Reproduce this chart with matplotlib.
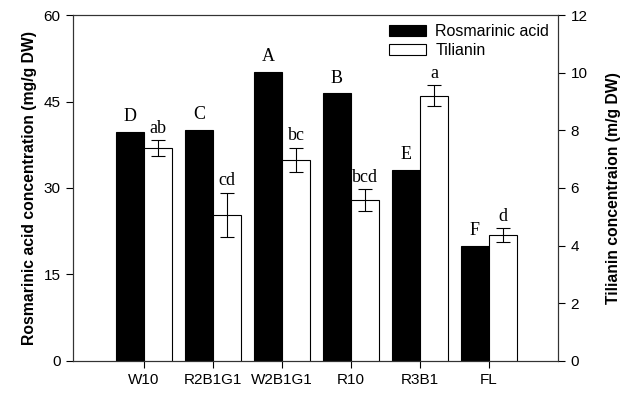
import numpy as np
import matplotlib
matplotlib.use("Agg")
import matplotlib.pyplot as plt

# values
groups = ["W10", "R2B1G1", "W2B1G1", "R10", "R3B1", "FL"]
rosmarinic = [39.7, 40.0, 50.1, 46.4, 33.1, 20.0]
rosmarinic_sig = ["D", "C", "A", "B", "E", "F"]
tilianin = [7.38, 5.06, 6.97, 5.58, 9.20, 4.37]
tilianin_err = [0.27, 0.77, 0.43, 0.38, 0.37, 0.24]
tilianin_sig = ["ab", "cd", "bc", "bcd", "a", "d"]

plt.rcParams["font.family"] = ["Liberation Sans", "DejaVu Sans"]

fig = plt.figure(figsize=(6.31, 3.94), dpi=100)
ax = fig.add_axes([0.1157, 0.0838, 0.7686, 0.8781])
ax2 = ax.twinx()

x = np.arange(len(groups))
w = 0.41

ax.bar(x - w / 2, rosmarinic, w, color="black", edgecolor="black",
       linewidth=0.8, label="Rosmarinic acid")
ax2.bar(x + w / 2, tilianin, w, yerr=tilianin_err, color="white",
        edgecolor="black", linewidth=0.8, capsize=5,
        error_kw=dict(elinewidth=0.8, capthick=0.8), label="Tilianin")

for xi, v, s in zip(x, rosmarinic, rosmarinic_sig):
    ax.text(xi - w / 2, v + 1.2, s, ha="center", va="bottom",
            fontsize=13, family="Liberation Serif")
for xi, v, e, s in zip(x, tilianin, tilianin_err, tilianin_sig):
    ax2.text(xi + w / 2, v + e + 0.12, s, ha="center", va="bottom",
             fontsize=13, family="Liberation Serif")

ax.set_xlim(-1.03, 6.0)
ax.set_ylim(0, 60)
ax2.set_ylim(0, 12)
ax.set_yticks([0, 15, 30, 45, 60])
ax2.set_yticks([0, 2, 4, 6, 8, 10, 12])
ax.set_xticks(x)
ax.set_xticklabels(groups)

for a in (ax, ax2):
    a.tick_params(direction="out", length=5, width=0.8, labelsize=11, pad=4)
    for sp in a.spines.values():
        sp.set_linewidth(0.8)
        sp.set_color("#333333")

ax.set_ylabel("Rosmarinic acid concentration (mg/g DW)", fontsize=11.3,
              fontweight="bold", labelpad=5)
ax2.set_ylabel("Tilianin concentraion (m/g DW)", fontsize=11.3,
               fontweight="bold", labelpad=13)

h1, l1 = ax.get_legend_handles_labels()
h2, l2 = ax2.get_legend_handles_labels()
ax2.legend(h1 + h2, l1 + l2, loc="upper right", frameon=False, fontsize=11.5,
           handlelength=2.3, handleheight=0.65, borderaxespad=0.15,
           labelspacing=0.25, handletextpad=0.6)

fig.savefig("out.png", dpi=100)
